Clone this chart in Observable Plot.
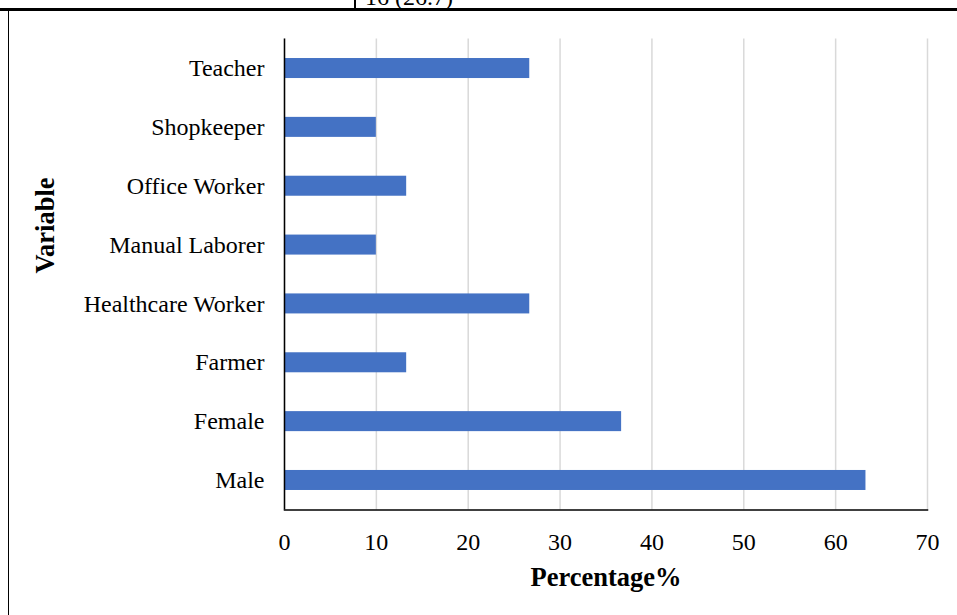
<!DOCTYPE html>
<html>
<head>
<meta charset="utf-8">
<script src="https://cdn.jsdelivr.net/npm/d3@7"></script>
<script src="https://cdn.jsdelivr.net/npm/@observablehq/plot@0.6"></script>
<style>
  html, body { margin: 0; padding: 0; background: #fff; }
  #wrap { position: relative; width: 957px; height: 615px; overflow: hidden; font-family: "Liberation Serif", "Times New Roman", serif; }
  #chart { position: absolute; left: 0; top: 0; }
  .line { position: absolute; background: #000; }
  #cell { position: absolute; left: 365px; top: -15px; font-size: 24px; line-height: 24px; white-space: nowrap; color: #000; }
</style>
</head>
<body>
<div id="wrap">
  <div id="chart"></div>
  <div class="line" style="left:0;top:8px;width:957px;height:2.5px;"></div>
  <div class="line" style="left:354px;top:0;width:1.5px;height:9px;"></div>
  <div class="line" style="left:7.5px;top:9px;width:1.7px;height:606px;"></div>
  <div id="cell">16 (26.7)</div>
</div>
<script>
const categories = ["Male", "Female", "Farmer", "Healthcare Worker", "Manual Laborer", "Office Worker", "Shopkeeper", "Teacher"];
const values = [63.3, 36.7, 13.3, 26.7, 10.0, 13.3, 10.0, 26.7];
const xTicks = [0, 10, 20, 30, 40, 50, 60, 70];
const xLabel = "Percentage%";
const yLabel = "Variable";

const data = categories.map((c, i) => ({category: c, value: values[i]}));

const chart = Plot.plot({
  width: 957,
  height: 615,
  marginLeft: 284,
  marginRight: 30,
  marginTop: 38.6,
  marginBottom: 105.6,
  style: {fontFamily: '"Liberation Serif", "Times New Roman", serif', fontSize: "24px", color: "#000", background: "transparent"},
  x: {domain: [0, 70], ticks: xTicks},
  y: {domain: categories.slice().reverse(), paddingInner: 0.66, paddingOuter: 0.33, align: 0.5, round: false},
  marks: [
    Plot.gridX(xTicks, {stroke: "#d9d9d9", strokeOpacity: 1, strokeWidth: 1.5}),
    Plot.barX(data, {y: "category", x: "value", fill: "#4472c4"}),
    Plot.ruleX([0], {stroke: "#000", strokeWidth: 1.5}),
    Plot.frame({anchor: "bottom", stroke: "#000", strokeWidth: 1.5}),
    Plot.axisX(xTicks, {tickSize: 0, tickPadding: 23, label: null, fontSize: 24}),
    Plot.axisY({tickSize: 0, tickPadding: 20, label: null, fontSize: 24}),
    Plot.text([xLabel], {frameAnchor: "bottom", dy: 68, lineAnchor: "middle", textAnchor: "middle", fontWeight: "bold", fontSize: 26.5}),
    Plot.text([yLabel], {frameAnchor: "left", dx: -239, dy: -49, rotate: -90, lineAnchor: "middle", textAnchor: "middle", fontWeight: "bold", fontSize: 26.5})
  ]
});
document.getElementById("chart").appendChild(chart);
</script>
</body>
</html>
